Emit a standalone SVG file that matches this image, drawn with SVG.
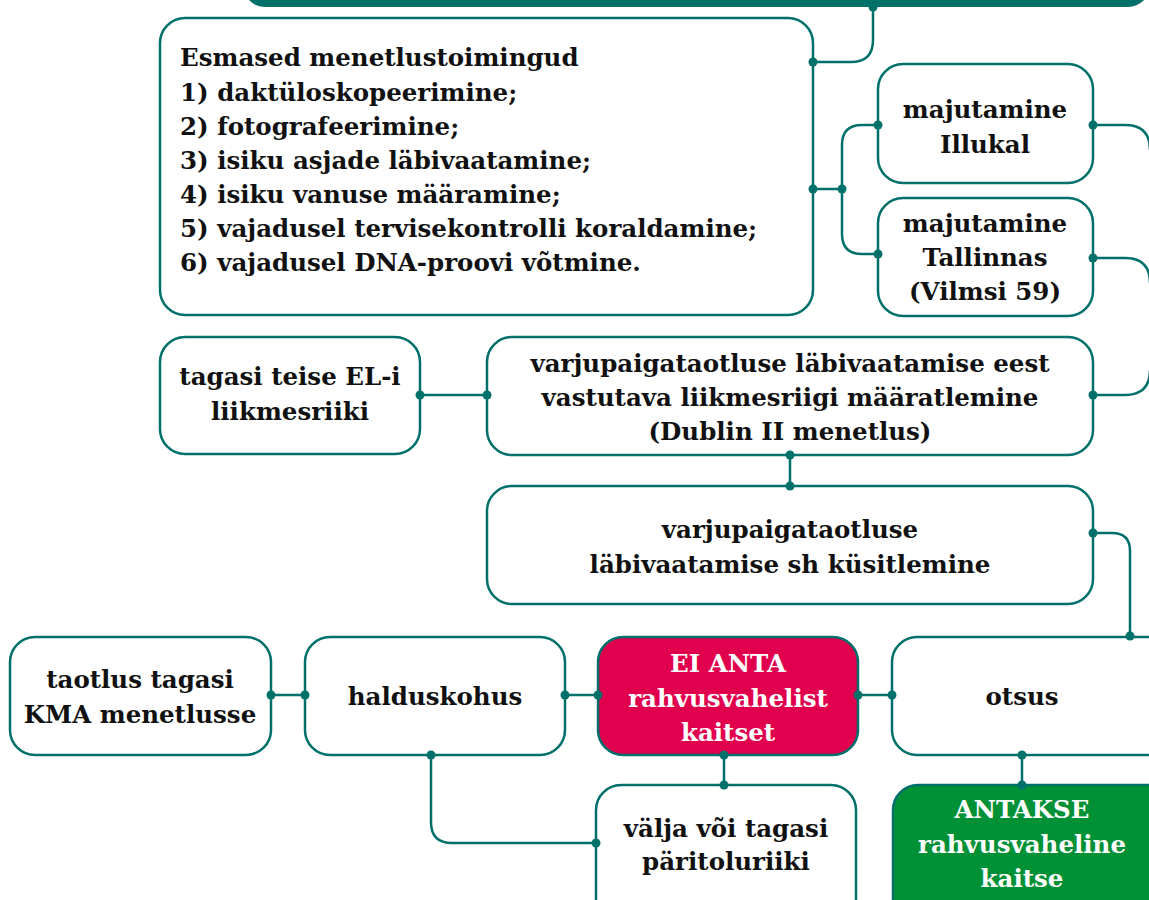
<svg xmlns="http://www.w3.org/2000/svg" width="1149" height="900" viewBox="0 0 1149 900">
<style>
.box{fill:#fff;stroke:#00706b;stroke-width:2.5}
.red{fill:#e0004d}
.green{fill:#009035}
.t{font-family:"DejaVu Serif","Liberation Serif",serif;font-weight:bold;font-size:24.5px;fill:#111;text-anchor:middle}
.l{text-anchor:start}
.w{fill:#fff}
.c path{fill:none;stroke:#00706b;stroke-width:2.5}
.d circle{fill:#00706b}
</style>
<rect x="0" y="0" width="1149" height="900" fill="#fff"/>
<rect id="topbar" x="243" y="-40" width="907" height="47" rx="22" fill="#00706b"/>
<g class="c" id="connectors">
<path d="M873 7 V40 Q873 62 851 62 H813"/>
<path d="M813 189 H842"/>
<path d="M878 125 H862 Q842 125 842 145 V234 Q842 254 862 254 H878"/>
<path d="M1093 125 H1125 Q1150 125 1150 150"/>
<path d="M1093 258 H1125 Q1150 258 1150 283"/>
<path d="M1093 395 H1125 Q1150 395 1150 370"/>
<path d="M420 395 H487"/>
<path d="M790 455 V486"/>
<path d="M1093 533 H1112 Q1130 533 1130 551 V636"/>
<path d="M271 695 H305"/>
<path d="M565 695 H598"/>
<path d="M858 695 H892"/>
<path d="M724 755 V785"/>
<path d="M1022 755 V785"/>
<path d="M431 755 V822 Q431 843 452 843 H596"/>
</g>
<g id="n1"><rect class="box" x="160" y="18" width="653" height="297" rx="25"/>
<text class="t l" x="180" y="66">Esmased menetlustoimingud</text>
<text class="t l" x="180" y="101">1) daktüloskopeerimine;</text>
<text class="t l" x="180" y="135">2) fotografeerimine;</text>
<text class="t l" x="180" y="169">3) isiku asjade läbivaatamine;</text>
<text class="t l" x="180" y="203">4) isiku vanuse määramine;</text>
<text class="t l" x="180" y="237">5) vajadusel tervisekontrolli koraldamine;</text>
<text class="t l" x="180" y="271">6) vajadusel DNA-proovi võtmine.</text>
</g>
<g id="n2"><rect class="box" x="878" y="64" width="215" height="119" rx="25"/>
<text class="t" x="985" y="118">majutamine</text><text class="t" x="985" y="153">Illukal</text></g>
<g id="n3"><rect class="box" x="878" y="198" width="215" height="118" rx="25"/>
<text class="t" x="985" y="232">majutamine</text><text class="t" x="985" y="266">Tallinnas</text><text class="t" x="985" y="300">(Vilmsi 59)</text></g>
<g id="n4"><rect class="box" x="160" y="337" width="260" height="117" rx="25"/>
<text class="t" x="290" y="385">tagasi teise EL-i</text><text class="t" x="290" y="420">liikmesriiki</text></g>
<g id="n5"><rect class="box" x="487" y="337" width="606" height="118" rx="25"/>
<text class="t" x="790" y="372">varjupaigataotluse läbivaatamise eest</text><text class="t" x="790" y="406">vastutava liikmesriigi määratlemine</text><text class="t" x="790" y="440">(Dublin II menetlus)</text></g>
<g id="n6"><rect class="box" x="487" y="486" width="606" height="118" rx="25"/>
<text class="t" x="790" y="538">varjupaigataotluse</text><text class="t" x="790" y="573">läbivaatamise sh küsitlemine</text></g>
<g id="n7"><rect class="box" x="10" y="637" width="261" height="118" rx="25"/>
<text class="t" x="140" y="688">taotlus tagasi</text><text class="t" x="140" y="723">KMA menetlusse</text></g>
<g id="n8"><rect class="box" x="305" y="637" width="260" height="118" rx="25"/>
<text class="t" x="435" y="705">halduskohus</text></g>
<g id="n9"><rect class="box red" x="598" y="637" width="260" height="118" rx="25"/>
<text class="t w" x="728" y="672">EI ANTA</text><text class="t w" x="728" y="707">rahvusvahelist</text><text class="t w" x="728" y="741">kaitset</text></g>
<g id="n10"><rect class="box" x="892" y="637" width="280" height="118" rx="25"/>
<text class="t" x="1022" y="705">otsus</text></g>
<g id="n11"><rect class="box" x="596" y="785" width="260" height="140" rx="25"/>
<text class="t" x="726" y="837">välja või tagasi</text><text class="t" x="726" y="870">päritoluriiki</text></g>
<g id="n12"><rect class="box green" x="893" y="785" width="280" height="140" rx="25"/>
<text class="t w" x="1022" y="818">ANTAKSE</text><text class="t w" x="1022" y="853">rahvusvaheline</text><text class="t w" x="1022" y="887">kaitse</text></g>
<g class="d" id="dots">
<circle cx="873" cy="7" r="4.5"/><circle cx="813" cy="62" r="4.5"/><circle cx="813" cy="189" r="4.5"/><circle cx="842" cy="189" r="4.5"/>
<circle cx="878" cy="125" r="4.5"/><circle cx="878" cy="254" r="4.5"/><circle cx="1093" cy="125" r="4.5"/><circle cx="1093" cy="258" r="4.5"/>
<circle cx="420" cy="395" r="4.5"/><circle cx="487" cy="395" r="4.5"/><circle cx="1093" cy="395" r="4.5"/>
<circle cx="790" cy="455" r="4.5"/><circle cx="790" cy="486" r="4.5"/><circle cx="1093" cy="533" r="4.5"/><circle cx="1130" cy="636" r="4.5"/>
<circle cx="271" cy="695" r="4.5"/><circle cx="305" cy="695" r="4.5"/><circle cx="565" cy="695" r="4.5"/><circle cx="598" cy="695" r="4.5"/>
<circle cx="858" cy="695" r="4.5"/><circle cx="892" cy="695" r="4.5"/><circle cx="431" cy="755" r="4.5"/><circle cx="724" cy="755" r="4.5"/>
<circle cx="1022" cy="755" r="4.5"/><circle cx="724" cy="785" r="4.5"/><circle cx="1022" cy="785" r="4.5"/><circle cx="596" cy="843" r="4.5"/>
</g>
</svg>
